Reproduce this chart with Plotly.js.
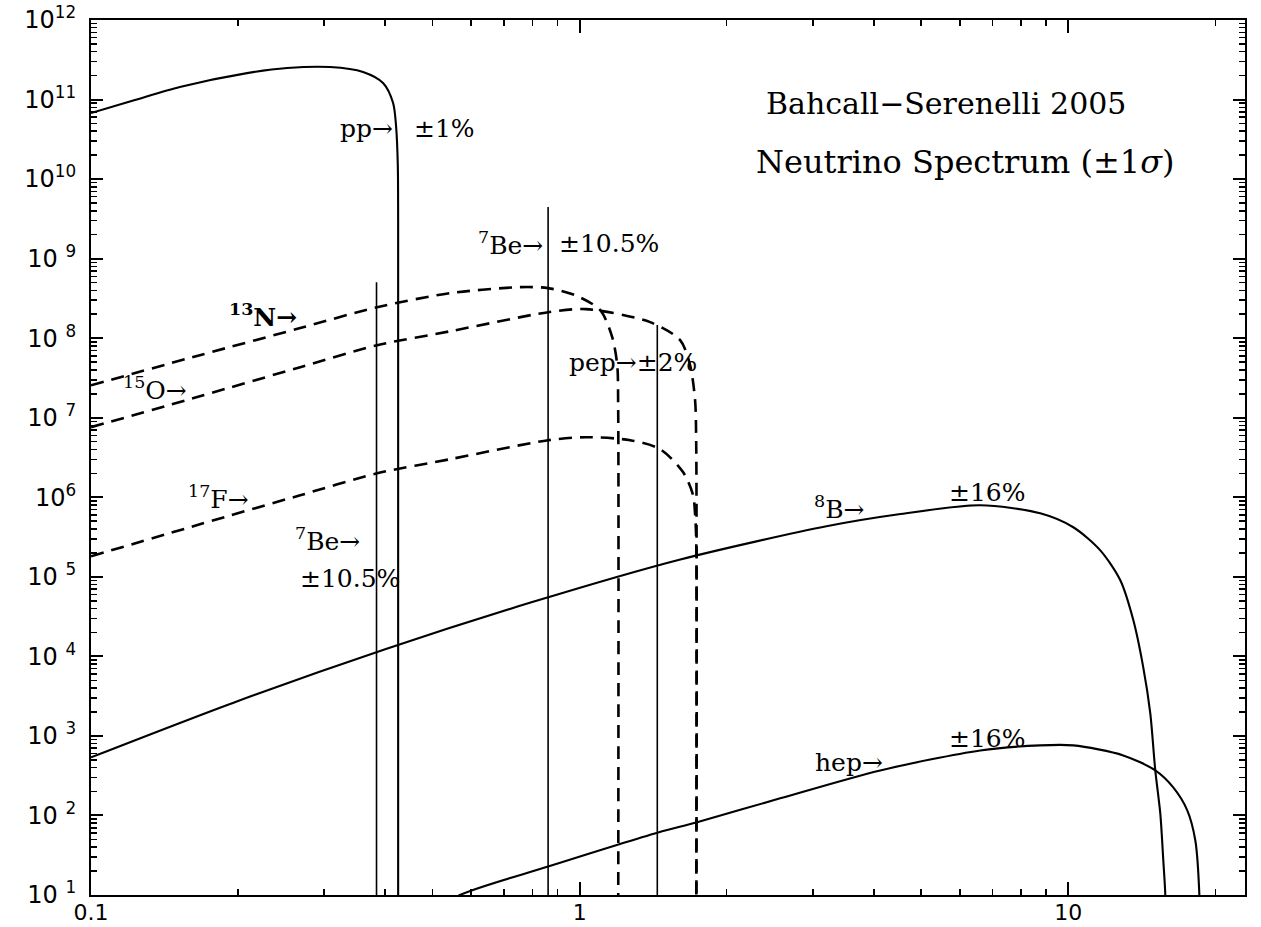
<!DOCTYPE html>
<html>
<head>
<meta charset="utf-8">
<script src="https://cdn.plot.ly/plotly-3.0.1.min.js"></script>
<style>html,body{margin:0;padding:0;background:#fff;}#chart{width:1261px;height:927px;}</style>
</head>
<body>
<div id="chart"></div>
<script>
// ---- Data (energy in MeV, flux) ----
var ppE   = [0.1, 0.123, 0.152, 0.2086, 0.2519, 0.3085, 0.3604, 0.396, 0.4152, 0.4212, 0.4245, 0.4252, 0.4252];
var ppF   = [6.76e10, 9.86e10, 1.44e11, 2.15e11, 2.49e11, 2.56e11, 2.22e11, 1.61e11, 9.04e10, 4.51e10, 1.5e10, 3e9, 1];

var n13E  = [0.1, 0.167, 0.268, 0.385, 0.543, 0.755, 0.862, 0.979, 1.102, 1.166, 1.194, 1.199, 1.199];
var n13F  = [2.56e7, 6.11e7, 1.34e8, 2.45e8, 3.68e8, 4.38e8, 4.26e8, 3.47e8, 2.25e8, 1.03e8, 4.57e7, 1.5e7, 1];

var o15E  = [0.1, 0.167, 0.268, 0.385, 0.543, 0.862, 1.03, 1.394, 1.606, 1.683, 1.723, 1.732, 1.732];
var o15F  = [7.60e6, 1.86e7, 4.32e7, 8.16e7, 1.22e8, 2.12e8, 2.32e8, 1.59e8, 9.44e7, 4.57e7, 1.66e7, 5e6, 1];

var f17E  = [0.1, 0.167, 0.268, 0.385, 0.543, 0.862, 1.03, 1.269, 1.462, 1.629, 1.707, 1.723, 1.732, 1.732];
var f17F  = [1.81e5, 4.57e5, 1.06e6, 2.00e6, 3.01e6, 5.21e6, 5.69e6, 5.21e6, 4.02e6, 2.06e6, 1.06e6, 6.11e5, 3e5, 1];

var b8E   = [0.1, 0.2, 0.4, 0.8, 1.6, 3.2, 4.5, 6.6, 8.764, 10.24, 11.63, 12.78, 13.59, 14.24, 14.72, 15.07, 15.43, 15.65, 15.80, 15.9];
var b8F   = [537, 2.75e3, 1.23e4, 4.81e4, 1.64e5, 4.32e5, 6.11e5, 7.93e5, 6.29e5, 4.20e5, 2.15e5, 9.04e4, 2.84e4, 7.28e3, 1.92e3, 368, 106, 27.2, 10, 1];

var hepE  = [0.5, 0.569, 0.862, 1.448, 1.732, 2.573, 4.123, 6.605, 8.764, 10.24, 12.96, 15.07, 16.40, 17.52, 18.20, 18.55, 18.6];
var hepF  = [6, 10, 22.8, 61.1, 81.7, 164, 368, 657, 760, 760, 569, 368, 225, 116, 48.5, 10, 1];

// line sources (cm^-2 s^-1): 7Be (0.384), 7Be (0.862), pep (1.442)
var lineNames = ['7Be 0.384', '7Be 0.862', 'pep'];
var lineE     = [0.384, 0.862, 1.442];
var lineF     = [5.06e8, 4.45e9, 1.46e8];

// ---- Tick labels ----
var yTickVals = [1e1,1e2,1e3,1e4,1e5,1e6,1e7,1e8,1e9,1e10,1e11,1e12];
var yTickText = ['10 <sup>1</sup>','10 <sup>2</sup>','10 <sup>3</sup>','10 <sup>4</sup>','10 <sup>5</sup>','10<sup>6</sup>','10 <sup>7</sup>','10 <sup>8</sup>','10 <sup>9</sup>','10<sup>10</sup>','10<sup>11</sup>','10<sup>12</sup>'];
var xTickVals = [0.1, 1, 10];
var xTickText = ['0.1', '1', '10'];

// minor tick positions (2..9 within each decade)
function minorTicks(lo, hi) {
  var out = [];
  for (var d = lo; d <= hi; d++) {
    for (var k = 2; k <= 9; k++) out.push(k * Math.pow(10, d));
  }
  return out;
}

var solid = {color: '#000', width: 2.1, shape: 'spline', smoothing: 0.8};
var dashed = {color: '#000', width: 2.6, dash: '13px,8px', shape: 'spline', smoothing: 0.8};

var traces = [
  {x: ppE, y: ppF, mode: 'lines', line: solid, name: 'pp'},
  {x: n13E, y: n13F, mode: 'lines', line: dashed, name: '13N'},
  {x: o15E, y: o15F, mode: 'lines', line: dashed, name: '15O'},
  {x: f17E, y: f17F, mode: 'lines', line: dashed, name: '17F'},
  {x: b8E, y: b8F, mode: 'lines', line: solid, name: '8B'},
  {x: hepE, y: hepF, mode: 'lines', line: solid, name: 'hep'}
];
for (var i = 0; i < lineE.length; i++) {
  traces.push({x: [lineE[i], lineE[i]], y: [1, lineF[i]], mode: 'lines',
               line: {color: '#000', width: 1.6}, name: lineNames[i]});
}

var serif = 'DejaVu Serif, Liberation Serif, serif';
var lf = {family: serif, size: 25, color: '#000'};
var tf = {family: serif, size: 30, color: '#000'};
var tf2 = {family: serif, size: 32, color: '#000'};
function L(v) { return Math.log10(v); }
function ann(text, x, y, xa, font) {
  return {text: text, x: x, y: y, xref: 'x', yref: 'y', showarrow: false,
          xanchor: xa, yanchor: 'middle', font: font || lf};
}
var annotations = [
  ann('pp→', -0.378, 10.642, 'right'),
  ann('±1%', -0.343, 10.642, 'left'),
  ann('<sup>7</sup>Be→', -0.071, 9.195, 'right'),
  ann('±10.5%', -0.046, 9.195, 'left'),
  ann('<b><sup>13</sup>N→</b>', -0.574, 8.289, 'right'),
  ann('<sup>15</sup>O→', -0.799, 7.371, 'right'),
  ann('<sup>17</sup>F→', -0.672, 6.0, 'right'),
  ann('<sup>7</sup>Be→', -0.445, 5.472, 'right'),
  ann('±10.5%', -0.576, 4.981, 'left'),
  ann('pep→±2%', -0.026, 7.698, 'left'),
  ann('<sup>8</sup>B→', 0.476, 5.874, 'left'),
  ann('±16%', 0.752, 6.063, 'left'),
  ann('hep→', 0.478, 2.667, 'left'),
  ann('±16%', 0.752, 2.969, 'left'),
  ann('Bahcall−Serenelli 2005', 0.750, 10.956, 'center', tf),
  ann('Neutrino Spectrum (±1<i>σ</i>)', 0.789, 10.214, 'center', tf2)
];

var layout = {
  width: 1261, height: 927,
  margin: {l: 91, r: 16, t: 20, b: 32},
  paper_bgcolor: '#fff', plot_bgcolor: '#fff',
  showlegend: false,
  xaxis: {
    type: 'log', range: [-1, L(23.0)],
    tickmode: 'array', tickvals: xTickVals, ticktext: xTickText,
    ticks: 'inside', ticklen: 13, tickwidth: 2, tickcolor: '#000',
    minor: {tickmode: 'array', tickvals: minorTicks(-1, 1), ticks: 'inside', ticklen: 6, tickwidth: 1.5, tickcolor: '#000'},
    showline: true, linecolor: '#000', linewidth: 2, mirror: 'ticks',
    showgrid: false, zeroline: false, ticklabelstandoff: -3,
    tickfont: {family: 'DejaVu Sans, sans-serif', size: 22, color: '#000'}
  },
  yaxis: {
    type: 'log', range: [1, 12],
    tickmode: 'array', tickvals: yTickVals, ticktext: yTickText,
    ticks: 'inside', ticklen: 12, tickwidth: 2, tickcolor: '#000',
    minor: {tickmode: 'array', tickvals: minorTicks(1, 11), ticks: 'inside', ticklen: 6, tickwidth: 1.5, tickcolor: '#000'},
    showline: true, linecolor: '#000', linewidth: 2, mirror: 'ticks',
    showgrid: false, zeroline: false, ticklabelstandoff: 8,
    tickfont: {family: 'DejaVu Sans, sans-serif', size: 24, color: '#000'}
  },
  annotations: annotations
};

Plotly.newPlot('chart', traces, layout, {staticPlot: true, displayModeBar: false});
</script>
</body>
</html>
